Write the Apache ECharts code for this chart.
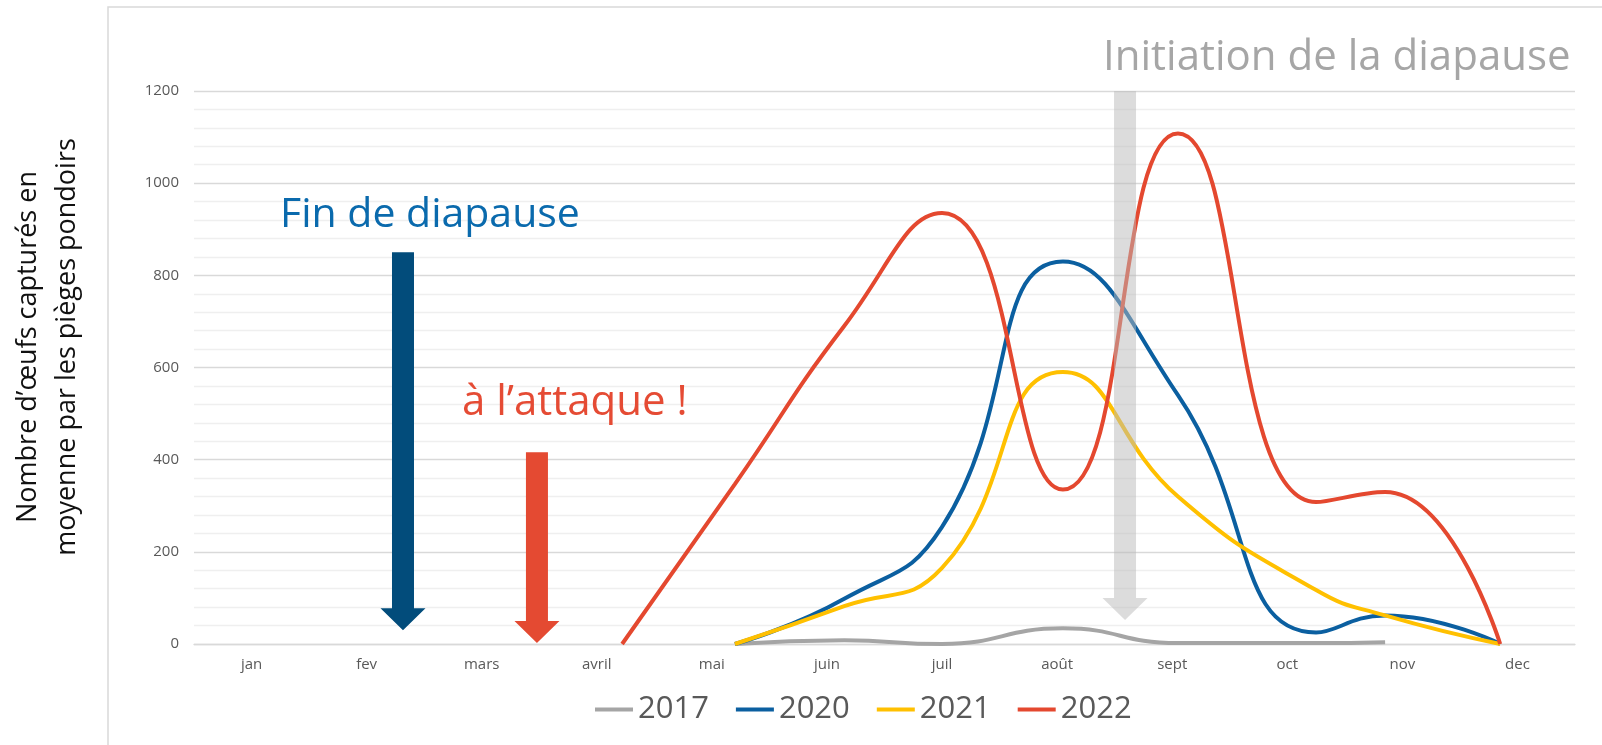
<!DOCTYPE html>
<html>
<head>
<meta charset="utf-8">
<script src="https://cdn.jsdelivr.net/npm/echarts@6/dist/echarts.min.js"></script>
<style>
  html, body { margin: 0; padding: 0; background: #fff; }
  #chart { width: 1602px; height: 745px; }
</style>
</head>
<body>
<div id="chart"></div>
<script>
  // month labels of the x axis
  const months = ['jan', 'fev', 'mars', 'avril', 'mai', 'juin', 'juil', 'août', 'sept', 'oct', 'nov', 'dec']
  // where each monthly sample sits along the month axis (0 = jan)
  const samplePos = [0, 1, 2, 3.22, 4.2, 5.15, 6.0, 7.05, 8.05, 9.25, 9.85, 10.85]
  // eggs per trap, one value per sample (null = no data)
  const y2017 = [null, null, null, null, 0, 8, 0, 34, 2, 2, 4, null]
  const y2020 = [null, null, null, null, 0, 98, 254, 830, 540, 25, 62, 0]
  const y2021 = [null, null, null, null, 0, 82, 165, 590, 320, 117, 62, 0]
  const y2022 = [null, null, null, 0, 347, 690, 935, 335, 1108, 308, 330, 0]
  const yearNames = ['2017', '2020', '2021', '2022']
  const yearColors = ['#a5a5a5', '#0b5fa0', '#ffc000', '#e4482f']

  const font = '"Open Sans", "Noto Sans", sans-serif'
  const chart = echarts.init(document.getElementById('chart'))

  function pairs(vals) {
    return samplePos.map((x, i) => [x, vals[i]])
  }

  const yearData = [y2017, y2020, y2021, y2022]
  const series = yearNames.map((name, i) => ({
    name: name,
    type: 'line',
    xAxisIndex: 1,
    smooth: true,
    symbol: 'none',
    lineStyle: { width: 4, color: yearColors[i] },
    itemStyle: { color: yearColors[i] },
    data: pairs(yearData[i])
  }))

  chart.setOption({
    animation: false,
    textStyle: { fontFamily: font },
    grid: { left: 194, right: 27, top: 91, bottom: 101 },
    legend: {
      data: yearNames,
      icon: 'rect',
      left: 590,
      top: 689,
      itemWidth: 38,
      itemHeight: 4,
      itemGap: 27,
      textStyle: { fontSize: 31, color: '#595959', fontFamily: font }
    },
    xAxis: [{
      type: 'category',
      data: months,
      boundaryGap: true,
      axisLine: { show: true, lineStyle: { color: '#d9d9d9', width: 1.3 } },
      axisTick: { show: false },
      axisLabel: { fontSize: 15, color: '#595959', margin: 13 }
    }, {
      type: 'value',
      min: -0.5,
      max: 11.5,
      show: false
    }],
    yAxis: {
      type: 'value',
      min: 0,
      max: 1200,
      interval: 200,
      axisLine: { show: false },
      axisTick: { show: false },
      axisLabel: { fontSize: 15, color: '#595959', margin: 15, formatter: v => String(v) },
      splitLine: { lineStyle: { color: '#d9d9d9', width: 1.3 } },
      minorTick: { show: false, splitNumber: 5 },
      minorSplitLine: { show: true, lineStyle: { color: '#efefef', width: 1.3 } }
    },
    series: series
  })

  // annotations anchored in data space
  function px(x, y) {
    return chart.convertToPixel({ xAxisIndex: 1, yAxisIndex: 0 }, [x, y])
  }
  function arrow(x, yTop, yTip, color, z) {
    const top = px(x, yTop)
    const tip = px(x, yTip)
    const cx = top[0]
    const headTop = tip[1] - 22
    return {
      type: 'polygon',
      z: z,
      shape: {
        points: [
          [cx - 11, top[1]], [cx + 11, top[1]], [cx + 11, headTop], [cx + 22.5, headTop],
          [cx, tip[1]], [cx - 22.5, headTop], [cx - 11, headTop]
        ]
      },
      style: { fill: color }
    }
  }

  chart.setOption({
    graphic: [
      {
        type: 'rect', z: -10, silent: true,
        shape: { x: 108, y: 7, width: 1600, height: 800 },
        style: { fill: 'none', stroke: '#d9d9d9', lineWidth: 1.5 }
      },
      arrow(1.316, 850, 30, '#024c7b', 5),
      arrow(2.48, 416, 2, '#e44a32', 5),
      arrow(7.59, 1200, 52, 'rgba(185,185,185,0.5)', 50),
      {
        type: 'text', z: 60,
        style: { text: 'Initiation de la diapause', x: 1103, y: 58, textVerticalAlign: 'middle',
          font: '42px ' + font, fill: '#a6a6a6' }
      },
      {
        type: 'text', z: 60,
        style: { text: 'Fin de diapause', x: 280, y: 215, textVerticalAlign: 'middle',
          font: '41px ' + font, fill: '#0a6aad' }
      },
      {
        type: 'text', z: 60,
        style: { text: 'à l’attaque !', x: 462, y: 403, textVerticalAlign: 'middle',
          font: '42px ' + font, fill: '#e54b34' }
      },
      {
        type: 'text', z: 60,
        x: 48, y: 347, rotation: Math.PI / 2,
        style: {
          text: 'Nombre d’œufs capturés en\nmoyenne par les pièges pondoirs',
          x: 0, y: 0, textAlign: 'center', textVerticalAlign: 'middle',
          font: '27px ' + font, fill: '#111', lineHeight: 39
        }
      }
    ]
  })
</script>
</body>
</html>
